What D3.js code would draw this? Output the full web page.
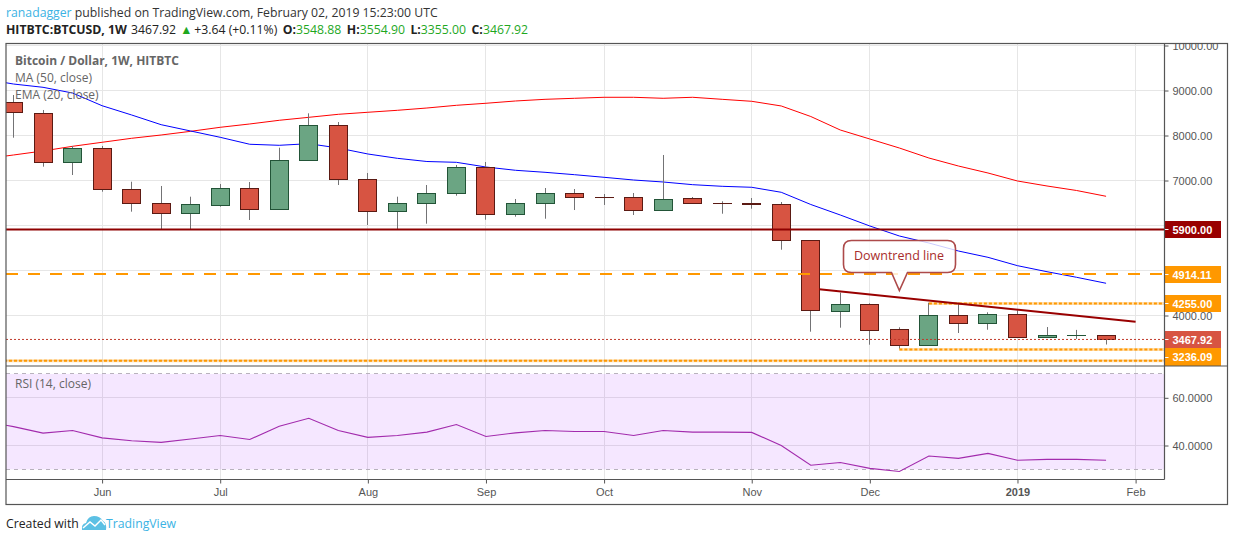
<!DOCTYPE html>
<html>
<head>
<meta charset="utf-8">
<script src="https://cdn.jsdelivr.net/npm/d3@7"></script>
<style>
    html, body { margin: 0; background: #fff; }
    svg { display: block; }
    text { font-family: "Liberation Sans", Arial, sans-serif; }
    .head text, .head tspan, .foot text { font-family: "Open Sans", sans-serif; }
    .axis text { font-size: 11px; fill: #555; }
    .axis path, .axis line { stroke: #555; }
    .legend { font-family: "Open Sans", sans-serif; font-size: 12px; fill: #666; }
    .box { font-size: 11px; font-weight: bold; fill: #fff; }
</style>
</head>
<body>
<div id="graph-container"></div>
<script>
const
    WIDTH = 1234,
    HEIGHT = 541;

// weekly bars, Monday open
const weeks = [
    '2018-05-14', '2018-05-21', '2018-05-28', '2018-06-04', '2018-06-11', '2018-06-18', '2018-06-25',
    '2018-07-02', '2018-07-09', '2018-07-16', '2018-07-23', '2018-07-30', '2018-08-06', '2018-08-13',
    '2018-08-20', '2018-08-27', '2018-09-03', '2018-09-10', '2018-09-17', '2018-09-24', '2018-10-01',
    '2018-10-08', '2018-10-15', '2018-10-22', '2018-10-29', '2018-11-05', '2018-11-12', '2018-11-19',
    '2018-11-26', '2018-12-03', '2018-12-10', '2018-12-17', '2018-12-24', '2018-12-31', '2019-01-07',
    '2019-01-14', '2019-01-21', '2019-01-28',
];
const opens = [
    8738, 8493, 7396, 7716, 6804, 6493, 6271, 6449, 6827, 6360, 7449, 8227, 7027, 6316, 6493, 6716, 7293, 6240, 6493,
    6716, 6627, 6627, 6338, 6604, 6493, 6500, 6471, 5671, 4093, 4249, 3693, 3338, 4004, 3827, 4027, 3516, 3555, 3548.88,
];
const highs = [
    8900, 8567, 7767, 7767, 6973, 6878, 6640, 6922, 6967, 7729, 8493, 8300, 7167, 6640, 6900, 7344, 7411, 6589, 6833,
    6811, 6700, 6722, 7567, 6633, 6538, 6611, 6522, 5671, 4507, 4271, 3738, 4284, 4284, 4071, 4116, 3744, 3680, 3554.90,
];
const lows = [
    7951, 7307, 7122, 6751, 6307, 5916, 5916, 6418, 6122, 6360, 7449, 6900, 6011, 5916, 6040, 6662, 6129, 6196, 6151,
    6344, 6456, 6233, 6338, 6484, 6262, 6373, 5462, 3640, 3729, 3351, 3262, 3338, 3611, 3684, 3516, 3516, 3480, 3355,
];
const closes = [
    8507, 7396, 7716, 6796, 6493, 6271, 6471, 6827, 6360, 7449, 8227, 7027, 6316, 6493, 6716, 7293, 6240, 6493, 6716,
    6627, 6615, 6338, 6582, 6484, 6480, 6470, 5671, 4116, 4249, 3671, 3338, 4004, 3827, 4027, 3516, 3560, 3565, 3467.92,
];

// the study lines start one bar left of the visible window
const firstStudyWeek = '2018-05-07';
const ma50 = [
    9255, 9144, 9071, 8944, 8662, 8456, 8240, 8100, 7960, 7805, 7782, 7818, 7722, 7589, 7493, 7422, 7404, 7300, 7227, 7182,
    7129, 7071, 7011, 6967, 6907, 6871, 6849, 6738, 6467, 6233, 5989, 5767, 5611, 5433, 5293, 5107, 4973, 4849, 4716,
];
const ema20 = [
    7480, 7567, 7656, 7760, 7849, 7938, 8011, 8093, 8182, 8256, 8338, 8404, 8471, 8516, 8560, 8611, 8671, 8716, 8767, 8804,
    8827, 8849, 8849, 8827, 8849, 8804, 8760, 8656, 8422, 8122, 7922, 7722, 7500, 7322, 7167, 6989, 6878, 6778, 6649,
];
const rsi14 = [
    50.3, 47.9, 45.2, 46.3, 43.2, 42.0, 41.3, 42.7, 44.2, 42.5, 48.1, 51.4, 46.3, 43.4, 44.2, 45.6, 48.8, 43.8, 45.3, 46.3,
    45.9, 45.9, 44.2, 46.3, 45.6, 45.6, 45.5, 40.0, 31.7, 32.9, 30.4, 29.1, 35.6, 34.6, 36.7, 33.8, 34.2, 34.2, 33.8,
];

const monthTicks = ['2018-06-04', '2018-07-02', '2018-08-06', '2018-09-03', '2018-10-01', '2018-11-05', '2018-12-03', '2019-01-07', '2019-02-04'];
const monthLabels = ['Jun', 'Jul', 'Aug', 'Sep', 'Oct', 'Nov', 'Dec', '2019', 'Feb'];
const priceGrid = [3000, 4000, 5000, 6000, 7000, 8000, 9000, 10000];
const priceLabels = [4000, 7000, 8000, 9000, 10000];
const rsiGrid = [40, 60];

// drawings
const resistance = 5900;
const midLevel = 4914.11;
const lastPrice = 3467.92;
const shortLevels = [['2018-12-17', 4255], ['2018-12-10', 3236.09], ['2018-05-07', 2982]];
const trendDates = ['2018-11-21', '2019-02-04'];
const trendPrices = [4582, 3862];

const parse = d3.utcParse('%Y-%m-%d');
const pane = { left: 6, right: 1164.5, top: 43.5, mid: 366, bottom: 479.5, frame: 1227.5, foot: 504.5 };

const x = d3.scaleUtc()
    .domain([parse(weeks[0]), parse(monthTicks[8])])
    .range([13.5, 1135.6]);
const y = d3.scaleLinear().domain([4000, 10000]).range([315.5, 45.5]);
const yRsi = d3.scaleLinear().domain([40, 60]).range([445.5, 397.8]);

const snap = (v) => Math.floor(v) + 0.5;

const svg = d3.select('#graph-container').append('svg')
    .attr('width', WIDTH)
    .attr('height', HEIGHT);

const defs = svg.append('defs');
defs.append('clipPath').attr('id', 'price-clip').append('rect')
    .attr('x', pane.left).attr('y', pane.top)
    .attr('width', pane.right - pane.left).attr('height', pane.mid - pane.top);
defs.append('clipPath').attr('id', 'rsi-clip').append('rect')
    .attr('x', pane.left).attr('y', pane.mid)
    .attr('width', pane.right - pane.left).attr('height', pane.bottom - pane.mid);
defs.append('clipPath').attr('id', 'axis-clip').append('rect')
    .attr('x', pane.right).attr('y', pane.top)
    .attr('width', pane.frame - pane.right).attr('height', pane.bottom - pane.top);

/////////////////////// Header //////////////////////////////
const head = svg.append('g').attr('class', 'head');
const line1 = head.append('text').attr('x', 6).attr('y', 17).style('font-size', '12.25px').attr('fill', '#333');
line1.append('tspan').attr('fill', '#3bb3e4').text('ranadagger');
line1.append('tspan').text(' published on TradingView.com, February 02, 2019 15:23:00 UTC');

const green = '#1fa81f';
const line2 = head.append('text').attr('x', 6).attr('y', 34).style('font-size', '12.25px').attr('fill', '#222');
line2.append('tspan').attr('font-weight', 'bold').text('HITBTC:BTCUSD, 1W');
line2.append('tspan').attr('dx', 4).text('3467.92');
line2.append('tspan').attr('dx', 4).attr('fill', green).text('▲');
line2.append('tspan').attr('dx', 2).text('+3.64 (+0.11%)');
[['O:', '3548.88'], ['H:', '3554.90'], ['L:', '3355.00'], ['C:', '3467.92']].forEach(([k, v]) => {
    line2.append('tspan').attr('dx', 5.5).attr('font-weight', 'bold').text(k);
    line2.append('tspan').attr('fill', green).text(v);
});

/////////////////////// Grids ///////////////////////////////
const priceG = svg.append('g').attr('clip-path', 'url(#price-clip)');
const rsiG = svg.append('g').attr('clip-path', 'url(#rsi-clip)');

const monthDates = monthTicks.map(parse);
priceG.selectAll('.vgrid').data(monthDates).join('line')
    .attr('x1', (d) => snap(x(d))).attr('x2', (d) => snap(x(d)))
    .attr('y1', pane.top).attr('y2', pane.mid)
    .attr('stroke', '#e6e6e6');
priceG.selectAll('.hgrid').data(priceGrid).join('line')
    .attr('x1', pane.left).attr('x2', pane.right)
    .attr('y1', (d) => snap(y(d))).attr('y2', (d) => snap(y(d)))
    .attr('stroke', '#e6e6e6');

rsiG.selectAll('.vgrid').data(monthDates).join('line')
    .attr('x1', (d) => snap(x(d))).attr('x2', (d) => snap(x(d)))
    .attr('y1', pane.mid).attr('y2', pane.bottom)
    .attr('stroke', '#e6e6e6');
rsiG.selectAll('.hgrid').data(rsiGrid).join('line')
    .attr('x1', pane.left).attr('x2', pane.right)
    .attr('y1', (d) => snap(yRsi(d))).attr('y2', (d) => snap(yRsi(d)))
    .attr('stroke', '#e6e6e6');

/////////////////////// Study lines /////////////////////////
const studyDates = [parse(firstStudyWeek)].concat(weeks.map(parse));
const studyLine = (yScale) => d3.line()
    .x((d, i) => x(studyDates[i]))
    .y((d) => yScale(d));

priceG.append('path').datum(ema20)
    .attr('fill', 'none').attr('stroke', '#ff0000').attr('d', studyLine(y));
priceG.append('path').datum(ma50)
    .attr('fill', 'none').attr('stroke', '#0000ff').attr('d', studyLine(y));

/////////////////////// Candles /////////////////////////////
const candles = weeks.map((w, i) => ({
    date: parse(w), o: opens[i], h: highs[i], l: lows[i], c: closes[i],
}));
const candleG = priceG.selectAll('.candle').data(candles).join('g').attr('class', 'candle');
candleG.append('line')
    .attr('x1', (d) => snap(x(d.date))).attr('x2', (d) => snap(x(d.date)))
    .attr('y1', (d) => y(d.h)).attr('y2', (d) => y(d.l))
    .attr('stroke', '#737375');
candleG.append('rect')
    .attr('x', (d) => snap(x(d.date)) - 9)
    .attr('width', 18)
    .attr('y', (d) => snap(y(Math.max(d.o, d.c))))
    .attr('height', (d) => Math.max(0.01, snap(y(Math.min(d.o, d.c))) - snap(y(Math.max(d.o, d.c)))))
    .attr('fill', (d) => (d.c >= d.o ? '#6ba583' : '#d75442'))
    .attr('stroke', (d) => (d.c >= d.o ? '#225437' : '#5b1a13'));

/////////////////////// Drawings ////////////////////////////
priceG.append('line')
    .attr('x1', pane.left).attr('x2', pane.right)
    .attr('y1', y(lastPrice)).attr('y2', y(lastPrice))
    .attr('stroke', '#c0392b').attr('stroke-dasharray', '2 2');

priceG.append('line')
    .attr('x1', pane.left).attr('x2', pane.right)
    .attr('y1', y(resistance) - 0.5).attr('y2', y(resistance) - 0.5)
    .attr('stroke', '#8e0000').attr('stroke-width', 2);
priceG.append('line')
    .attr('x1', pane.left).attr('x2', pane.right)
    .attr('y1', y(midLevel) - 0.4).attr('y2', y(midLevel) - 0.4)
    .attr('stroke', '#ff9800').attr('stroke-width', 2).attr('stroke-dasharray', '12 10');

// dotted levels, with a pale band under the dots
priceG.selectAll('.short-halo').data(shortLevels).join('line')
    .attr('x1', (d) => x(parse(d[0]))).attr('x2', pane.right)
    .attr('y1', (d) => y(d[1]) - 0.5).attr('y2', (d) => y(d[1]) - 0.5)
    .attr('stroke', 'rgba(255,152,0,0.3)').attr('stroke-width', 3);
priceG.selectAll('.short-level').data(shortLevels).join('line')
    .attr('x1', (d) => x(parse(d[0]))).attr('x2', pane.right)
    .attr('y1', (d) => y(d[1]) - 0.5).attr('y2', (d) => y(d[1]) - 0.5)
    .attr('stroke', '#ff9800').attr('stroke-width', 2).attr('stroke-dasharray', '3 2');

priceG.append('line')
    .attr('x1', x(parse(trendDates[0]))).attr('x2', x(parse(trendDates[1])))
    .attr('y1', y(trendPrices[0])).attr('y2', y(trendPrices[1]))
    .attr('stroke', '#990000').attr('stroke-width', 2);

// callout, anchored on the trend line
const callout = priceG.append('g');
const cx0 = x(parse('2018-12-10'));
callout.append('path')
    .attr('d', `M851.5 240.5 H947.5 Q955.5 240.5 955.5 248.5 V264.5 Q955.5 272.5 947.5 272.5 H907.5 L${cx0} 290.5 L891.5 272.5 H851.5 Q843.5 272.5 843.5 264.5 V248.5 Q843.5 240.5 851.5 240.5 Z`)
    .attr('fill', 'rgba(255,255,255,0.8)')
    .attr('stroke', '#ad4a4a').attr('stroke-width', 1.6);
callout.append('text')
    .attr('x', 899).attr('y', 260)
    .attr('text-anchor', 'middle')
    .style('font-family', '"Open Sans", sans-serif')
    .style('font-size', '12.5px')
    .attr('fill', '#a82c2c')
    .text('Downtrend line');

/////////////////////// RSI pane ////////////////////////////
rsiG.append('rect')
    .attr('x', pane.left).attr('width', pane.right - pane.left)
    .attr('y', yRsi(70)).attr('height', yRsi(30) - yRsi(70))
    .attr('fill', 'rgba(153,21,255,0.1)');
rsiG.selectAll('.band').data([70, 30]).join('line')
    .attr('x1', pane.left).attr('x2', pane.right)
    .attr('y1', (d) => snap(yRsi(d))).attr('y2', (d) => snap(yRsi(d)))
    .attr('stroke', '#b8b2bd').attr('stroke-dasharray', '4 4');
rsiG.append('path').datum(rsi14)
    .attr('fill', 'none').attr('stroke', '#a22bad').attr('stroke-width', 1.1).attr('d', studyLine(yRsi));

/////////////////////// Axes ////////////////////////////////
const priceAxis = svg.append('g')
    .attr('clip-path', 'url(#axis-clip)')
    .append('g')
    .attr('class', 'axis')
    .attr('transform', `translate(${pane.right}, 0)`)
    .call(d3.axisRight(y).tickValues(priceLabels).tickSize(4).tickPadding(4).tickFormat(d3.format('.2f')));
priceAxis.select('.domain').remove();

const rsiAxis = svg.append('g')
    .attr('class', 'axis')
    .attr('transform', `translate(${pane.right}, 0)`)
    .call(d3.axisRight(yRsi).tickValues(rsiGrid).tickSize(4).tickPadding(4).tickFormat(d3.format('.4f')));
rsiAxis.select('.domain').remove();

const timeAxis = svg.append('g')
    .attr('class', 'axis')
    .attr('transform', `translate(0, ${pane.bottom})`)
    .call(d3.axisBottom(x).tickValues(monthDates).tickSize(4).tickPadding(5)
        .tickFormat((d, i) => monthLabels[i]));
timeAxis.select('.domain').remove();
timeAxis.selectAll('text').filter((d, i) => monthLabels[i] === '2019').attr('font-weight', 'bold');

/////////////////////// Price boxes /////////////////////////
const boxes = [
    { label: '5900.00', top: 221, bottom: 238, color: '#990000' },
    { label: '4914.11', top: 266, bottom: 283, color: '#ff9800' },
    { label: '4255.00', top: 295, bottom: 312, color: '#ff9800' },
    { label: '3467.92', top: 331, bottom: 348, color: '#d75442' },
    { label: '3236.09', top: 348, bottom: 366, color: '#ff9800' },
];
const boxG = svg.selectAll('.box-g').data(boxes).join('g');
boxG.append('rect')
    .attr('x', pane.right).attr('width', 56.5)
    .attr('y', (d) => d.top).attr('height', (d) => d.bottom - d.top)
    .attr('fill', (d) => d.color);
boxG.append('line')
    .attr('x1', pane.right).attr('x2', pane.right + 4)
    .attr('y1', (d) => Math.floor((d.top + d.bottom) / 2) + 0.5).attr('y2', (d) => Math.floor((d.top + d.bottom) / 2) + 0.5)
    .attr('stroke', '#fff');
boxG.append('text')
    .attr('class', 'box')
    .attr('x', 1172.5)
    .attr('y', (d) => (d.top + d.bottom) / 2 + 4)
    .text((d) => d.label);

/////////////////////// Frame ///////////////////////////////
const frame = svg.append('g').attr('fill', 'none').attr('stroke', '#555').attr('stroke-width', 1.2);
frame.append('rect')
    .attr('x', pane.left).attr('y', pane.top)
    .attr('width', pane.frame - pane.left).attr('height', pane.foot - pane.top);
frame.append('line').attr('x1', pane.left).attr('x2', pane.frame).attr('y1', pane.mid).attr('y2', pane.mid);
frame.append('line').attr('x1', pane.left).attr('x2', pane.right).attr('y1', pane.bottom).attr('y2', pane.bottom);
frame.append('line').attr('x1', pane.right).attr('x2', pane.right).attr('y1', pane.top).attr('y2', pane.bottom);

/////////////////////// Legends /////////////////////////////
svg.append('text').attr('class', 'legend').attr('x', 15).attr('y', 65)
    .attr('font-weight', 'bold').text('Bitcoin / Dollar, 1W, HITBTC');
svg.append('text').attr('class', 'legend').attr('x', 15).attr('y', 82).text('MA (50, close)');
svg.append('text').attr('class', 'legend').attr('x', 15).attr('y', 99).text('EMA (20, close)');
svg.append('text').attr('class', 'legend').attr('x', 15).attr('y', 388).text('RSI (14, close)');

/////////////////////// Footer //////////////////////////////
const foot = svg.append('g').attr('class', 'foot');
foot.append('text').attr('x', 6).attr('y', 528).style('font-size', '12.25px').attr('fill', '#222').text('Created with');
foot.append('path')
    .attr('d', 'M82 530 Q81 524 86 523 Q88 516 94 516 Q100 516 103 521 Q107 523 106 530 Z')
    .attr('fill', '#5cc0e4');
foot.append('path')
    .attr('d', 'M83 528 L90 522 L95 526 L101 520 L105 525')
    .attr('fill', 'none').attr('stroke', '#fff').attr('stroke-width', 1.5);
foot.append('text').attr('x', 106).attr('y', 528).style('font-size', '12.25px').attr('fill', '#3bb3e4').text('TradingView');
</script>
</body>
</html>
